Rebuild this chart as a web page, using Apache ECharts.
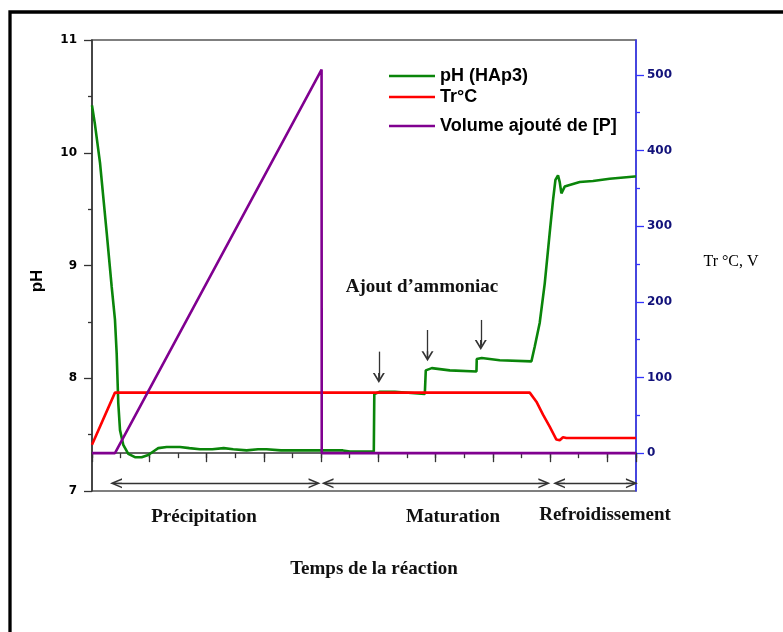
<!DOCTYPE html>
<html>
<head>
<meta charset="utf-8">
<script src="https://cdn.jsdelivr.net/npm/echarts@6/dist/echarts.min.js"></script>
<style>
html,body{margin:0;padding:0;background:#fff;}
#chart{width:783px;height:632px;}
</style>
</head>
<body>
<div id="chart"></div>
<script>
// ---- data (x in arbitrary time units, 0..9.5) ----
const phX = [0,0.052,0.140,0.257,0.344,0.401,0.431,0.459,0.489,0.546,0.634,0.750,0.867,0.983,1.070,1.157,1.304,1.536,1.7,1.885,2.1,2.3,2.466,2.7,2.9,3.049,3.3,3.630,3.991,4.066,4.38,4.503,4.921,4.93,5.026,5.288,5.812,5.829,5.934,6.248,6.714,6.719,6.806,7.12,7.674,7.684,7.731,7.818,7.906,7.993,8.051,8.093,8.138,8.168,8.197,8.255,8.312,8.517,8.749,9.040,9.476,9.5];
const phY = [10.42,10.25,9.91,9.29,8.81,8.52,8.22,7.78,7.54,7.41,7.33,7.30,7.30,7.32,7.35,7.38,7.39,7.39,7.38,7.37,7.37,7.38,7.37,7.36,7.37,7.37,7.36,7.36,7.36,7.36,7.36,7.35,7.35,7.86,7.88,7.88,7.86,8.07,8.09,8.07,8.06,8.17,8.18,8.16,8.15,8.16,8.28,8.49,8.84,9.29,9.58,9.76,9.80,9.74,9.64,9.70,9.71,9.74,9.75,9.77,9.79,9.79];
const tempX = [0,0.401,7.644,7.761,7.876,7.993,8.110,8.168,8.225,8.284,9.5];
const tempY = [11,80,80,68,51,35,18,17,21,20,20];
const volX = [0,0.401,4.009,4.012,9.5];
const volY = [0,0,507,0,0];
const leftTicks = [7,8,9,10,11];
const rightTicks = [0,100,200,300,400,500];
const rightMinor = [50,150,250,350,450];
const seriesNames = ['pH (HAp3)','Tr°C','Volume ajouté de [P]'];

const zip = (xs, ys) => xs.map((x,i)=>[x, ys[i]]);

const chevron = 'path://M5,0 L10,10 L8.4,10 L5,3.2 L1.6,10 L0,10 Z M4.4,1 L5.6,1 L5.6,10 L4.4,10 Z';
const sansB = 'Liberation Sans';

const chart = echarts.init(document.getElementById('chart'), null, {renderer:'canvas'});

const axisGray = '#333';
const blue = '#3333ff';
const navy = '#12127a';
const gridBox = {left: 92, top: 40, right: 147, bottom: 141};

const option = {
  animation: false,
  backgroundColor: '#fff',
  grid: [
    Object.assign({show: true, borderColor: '#555', borderWidth: 1.5, backgroundColor: 'transparent'}, gridBox),
    Object.assign({show: false}, gridBox)
  ],
  legend: seriesNames.map((n, i) => ({
    data: [n],
    left: 389,
    top: [67, 88, 117][i],
    padding: 0,
    icon: 'rect',
    itemWidth: 46,
    itemHeight: 2.5,
    selectedMode: false,
    textStyle: {fontFamily: sansB, fontWeight: 'bold', fontSize: 18, color: '#000'}
  })),
  xAxis: [
    {type: 'value', gridIndex: 0, min: 0, max: 9.5, interval: 1,
     axisLine: {show: true, lineStyle: {color: axisGray, width: 1.5}},
     axisTick: {show: true, length: 9, lineStyle: {color: axisGray, width: 1.3}},
     axisLabel: {show: false}, splitLine: {show: false}},
    {type: 'value', gridIndex: 1, min: 0, max: 9.5, interval: 0.5, position: 'bottom',
     axisLine: {show: false},
     axisTick: {show: true, length: 5, lineStyle: {color: axisGray, width: 1.3}},
     axisLabel: {show: false}, splitLine: {show: false}}
  ],
  yAxis: [
    {type: 'value', gridIndex: 0, min: 7, max: 11, interval: 1, position: 'left',
     axisLine: {show: true, lineStyle: {color: axisGray, width: 1.5}},
     axisTick: {show: true, length: 8, lineStyle: {color: axisGray, width: 1.3}},
     minorTick: {show: true, splitNumber: 2, length: 4, lineStyle: {color: axisGray, width: 1.3}},
     axisLabel: {show: true, margin: 15, color: '#000', fontFamily: 'DejaVu Sans', fontWeight: 'bold', fontSize: 12,
       formatter: v => leftTicks.includes(v) ? String(v) : ''},
     splitLine: {show: false}},
    {type: 'value', gridIndex: 0, min: -50, max: 546, interval: 50, position: 'right',
     axisLine: {show: true, onZero: false, lineStyle: {color: blue, width: 1.5}},
     axisTick: {show: true, length: 8, customValues: rightTicks, lineStyle: {color: blue, width: 1.3}},
     axisLabel: {show: true, margin: 11, customValues: rightTicks, color: navy, fontFamily: 'DejaVu Sans', fontWeight: 'bold', fontSize: 12,
       formatter: v => rightTicks.includes(v) ? String(v) : ''},
     splitLine: {show: false}},
    {type: 'value', gridIndex: 1, min: -50, max: 546, interval: 50, position: 'right',
     axisLine: {show: false, onZero: false},
     axisTick: {show: true, length: 4, customValues: rightMinor, lineStyle: {color: blue, width: 1.3}},
     axisLabel: {show: false},
     splitLine: {show: false}}
  ],
  series: [
    {name: seriesNames[0], type: 'line', xAxisIndex: 0, yAxisIndex: 0, data: zip(phX, phY),
     symbol: 'none', lineStyle: {color: '#0a850a', width: 2.6}, itemStyle: {color: '#0a850a'}},
    {name: seriesNames[1], type: 'line', xAxisIndex: 0, yAxisIndex: 1, data: zip(tempX, tempY),
     symbol: 'none', lineStyle: {color: '#ff0000', width: 2.6}, itemStyle: {color: '#ff0000'}},
    {name: seriesNames[2], type: 'line', xAxisIndex: 0, yAxisIndex: 1, data: zip(volX, volY),
     symbol: 'none', lineStyle: {color: '#800090', width: 2.6}, itemStyle: {color: '#800090'}},
    {name: 'annotations', type: 'line', xAxisIndex: 0, yAxisIndex: 0, data: [], clip: false, silent: true,
     markLine: {
       silent: true, animation: false,
       symbol: [chevron, chevron],
       symbolSize: [10, 12],
       label: {show: false},
       lineStyle: {color: '#333', width: 1.3, type: 'solid'},
       itemStyle: {color: '#333'},
       data: [
         [{coord: [0.419, 7.068]}, {coord: [3.887, 7.068]}],
         [{coord: [4.113, 7.068]}, {coord: [7.900, 7.068]}],
         [{coord: [8.155, 7.068]}, {coord: [9.429, 7.068]}],
         [{coord: [5.009, 8.236], symbol: 'none'}, {coord: [5.009, 8.003], symbol: chevron, symbolSize: [12, 10]}],
         [{coord: [5.859, 8.428], symbol: 'none'}, {coord: [5.859, 8.195], symbol: chevron, symbolSize: [12, 10]}],
         [{coord: [6.789, 8.517], symbol: 'none'}, {coord: [6.789, 8.295], symbol: chevron, symbolSize: [12, 10]}]
       ]
     }}
  ],
  graphic: [
    {type: 'rect', shape: {x: 10, y: 12, width: 800, height: 700}, style: {fill: 'none', stroke: '#000', lineWidth: 3.3}, silent: true},
    {type: 'text', x: 37, y: 281, rotation: Math.PI/2, style: {text: 'pH', font: 'bold 17px "Liberation Sans"', fill: '#000', textAlign: 'center', textVerticalAlign: 'middle'}},
    {type: 'text', x: 731, y: 262, style: {text: 'Tr °C, V', font: '16px "Liberation Serif"', fill: '#000', textAlign: 'center', textVerticalAlign: 'middle'}},
    {type: 'text', x: 422, y: 287, style: {text: 'Ajout d’ammoniac', font: 'bold 19px "Liberation Serif"', fill: '#111', textAlign: 'center', textVerticalAlign: 'middle'}},
    {type: 'text', x: 204, y: 517, style: {text: 'Précipitation', font: 'bold 19px "Liberation Serif"', fill: '#111', textAlign: 'center', textVerticalAlign: 'middle'}},
    {type: 'text', x: 453, y: 517, style: {text: 'Maturation', font: 'bold 19px "Liberation Serif"', fill: '#111', textAlign: 'center', textVerticalAlign: 'middle'}},
    {type: 'text', x: 605, y: 515, style: {text: 'Refroidissement', font: 'bold 19px "Liberation Serif"', fill: '#111', textAlign: 'center', textVerticalAlign: 'middle'}},
    {type: 'text', x: 374, y: 569, style: {text: 'Temps de la réaction', font: 'bold 19px "Liberation Serif"', fill: '#111', textAlign: 'center', textVerticalAlign: 'middle'}}
  ]
};
chart.setOption(option);
</script>
</body>
</html>
